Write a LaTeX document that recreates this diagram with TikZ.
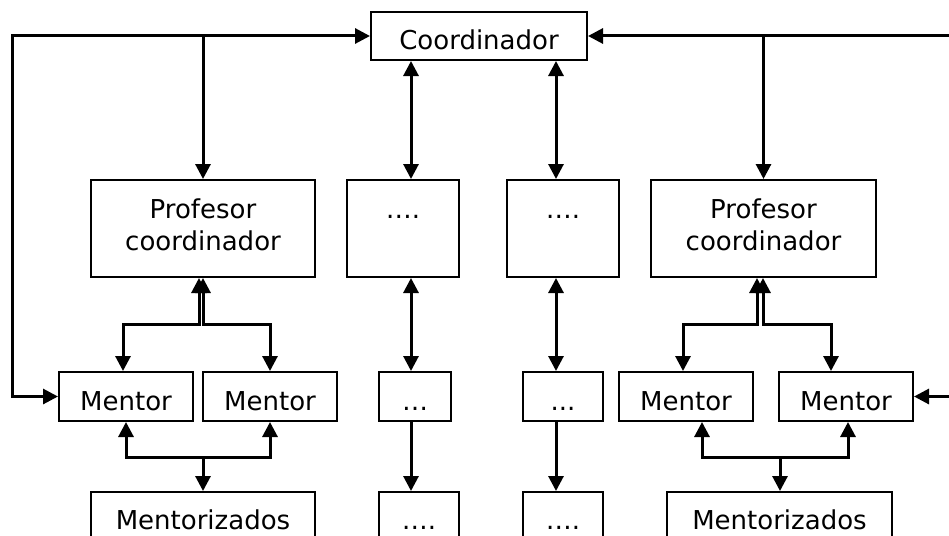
\documentclass[tikz,border=0pt]{standalone}
\usepackage{fontspec}
\setmainfont{DejaVu Sans}
\usetikzlibrary{arrows.meta}
\begin{document}
\begin{tikzpicture}[x=1pt,y=-1pt,
  box/.style={draw, line width=2pt, inner sep=0pt, font=\fontsize{26}{32}\selectfont, text height=27pt, text depth=0pt},
  tall/.style={box, align=center, text height=43pt, text depth=0pt},
  dots/.style={box, text height=0pt, text depth=21pt},
  conn/.style={line width=3pt, >={Triangle[length=15pt,width=15pt]}}]
\useasboundingbox (0,0) rectangle (949,535);
\clip (0,0) rectangle (949,535);
% nodes
\node[box, minimum width=216pt, minimum height=48pt] (C) at (479,36) {Coordinador};
\node[tall, minimum width=224pt, minimum height=97pt] (P1) at (203,228.5) {Profesor\\coordinador};
\node[dots, minimum width=112pt, minimum height=97pt] (D1) at (403,228.5) {….};
\node[dots, minimum width=112pt, minimum height=97pt] (D2) at (563,228.5) {….};
\node[tall, minimum width=225pt, minimum height=97pt] (P2) at (763.5,228.5) {Profesor\\coordinador};
\node[box, minimum width=134pt, minimum height=49pt] (M1) at (126,396.5) {Mentor};
\node[box, minimum width=134pt, minimum height=49pt] (M2) at (270,396.5) {Mentor};
\node[box, minimum width=72pt, minimum height=49pt] (S1) at (415,396.5) {…};
\node[box, minimum width=80pt, minimum height=49pt] (S2) at (563,396.5) {...};
\node[box, minimum width=134pt, minimum height=49pt] (M3) at (686,396.5) {Mentor};
\node[box, minimum width=134pt, minimum height=49pt] (M4) at (846,396.5) {Mentor};
\node[box, minimum width=224pt, minimum height=48pt] (Z1) at (203,516) {Mentorizados};
\node[box, minimum width=80pt, minimum height=48pt] (B1) at (419,516) {….};
\node[box, minimum width=80pt, minimum height=48pt] (B2) at (563,516) {….};
\node[box, minimum width=225pt, minimum height=48pt] (Z2) at (779.5,516) {Mentorizados};
% helper coordinates
\coordinate (L) at (12,36);
\coordinate (R) at (962,36);
\coordinate (x2) at (411,0);
\coordinate (x3) at (556,0);
\coordinate (ja) at (199,324);
\coordinate (jb) at (203,324);
\coordinate (jc) at (757,324);
\coordinate (jd) at (763,324);
\coordinate (ka) at (203,457);
\coordinate (kb) at (780,457);
% connectors
\draw[conn,<->] (M1.west) -| (L) -- (C.west);
\draw[conn,<->] (M4.east) -| (R) -- (C.east);
\draw[conn,->] (P1.north |- L) -- (P1.north);
\draw[conn,->] (P2.north |- R) -- (P2.north);
\draw[conn,<->] (C.south -| x2) -- (D1.north -| x2);
\draw[conn,<->] (C.south -| x3) -- (D2.north -| x3);
\draw[conn,<->] (D1.south -| x2) -- (S1.north -| x2);
\draw[conn,<->] (D2.south -| x3) -- (S2.north -| x3);
\draw[conn,->] (S1.south -| x2) -- (B1.north -| x2);
\draw[conn,->] (S2.south -| x3) -- (B2.north -| x3);
\draw[conn,<->] ([xshift=-3pt]M1.north) |- (ja) -- (ja |- P1.south);
\draw[conn,<->] (M2.north) |- (jb) -- (jb |- P1.south);
\draw[conn,<->] ([xshift=-3pt]M3.north) |- (jc) -- (jc |- P2.south);
\draw[conn,<->] ([xshift=-15pt]M4.north) |- (jd) -- (jd |- P2.south);
\draw[conn,<->] (M1.south) |- (ka) -- (Z1.north);
\draw[conn,->] (ka) -| (M2.south);
\draw[conn,<->] ([xshift=16pt]M3.south) |- (kb) -- (kb |- Z2.north);
\draw[conn,->] (kb) -| ([xshift=2pt]M4.south);
\end{tikzpicture}
\end{document}
